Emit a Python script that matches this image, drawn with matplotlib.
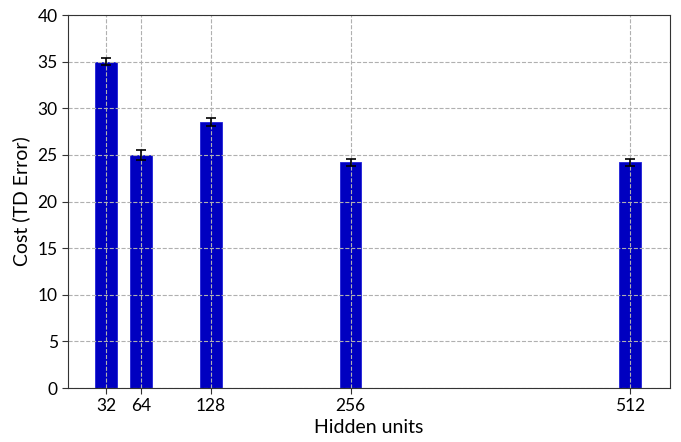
import matplotlib
matplotlib.use("Agg")
import matplotlib.pyplot as plt

plt.rcParams['font.family'] = ['Lato', 'DejaVu Sans']

hidden_units = [32, 64, 128, 256, 512]
cost = [35.0, 25.0, 28.5, 24.2, 24.2]
cost_err = [0.4, 0.5, 0.45, 0.35, 0.35]
y_ticks = [0, 5, 10, 15, 20, 25, 30, 35, 40]

fig = plt.figure(figsize=(6.81, 4.42), dpi=100)
ax = fig.add_axes([0.100, 0.122, 0.884, 0.844])

ax.bar(hidden_units, cost, width=20, color='#0000c0', edgecolor='#2020d8',
       linewidth=0.6, yerr=cost_err, capsize=3.5,
       error_kw=dict(ecolor='black', elinewidth=1.2, capthick=1.2))

ax.set_xlim(-3, 549)
ax.set_ylim(0, 40)
ax.set_xticks(hidden_units)
ax.set_xticklabels([str(h) for h in hidden_units])
ax.set_yticks(y_ticks)
ax.tick_params(labelsize=12.5, length=4, color='#333333')
ax.grid(True, linestyle='--', color='#b0b0b0', linewidth=0.8)
for s in ax.spines.values():
    s.set_color('#333333')

ax.set_xlabel('Hidden units', fontsize=14, labelpad=3)
ax.set_ylabel('Cost (TD Error)', fontsize=14, labelpad=5)

fig.savefig('out.png', dpi=100)
